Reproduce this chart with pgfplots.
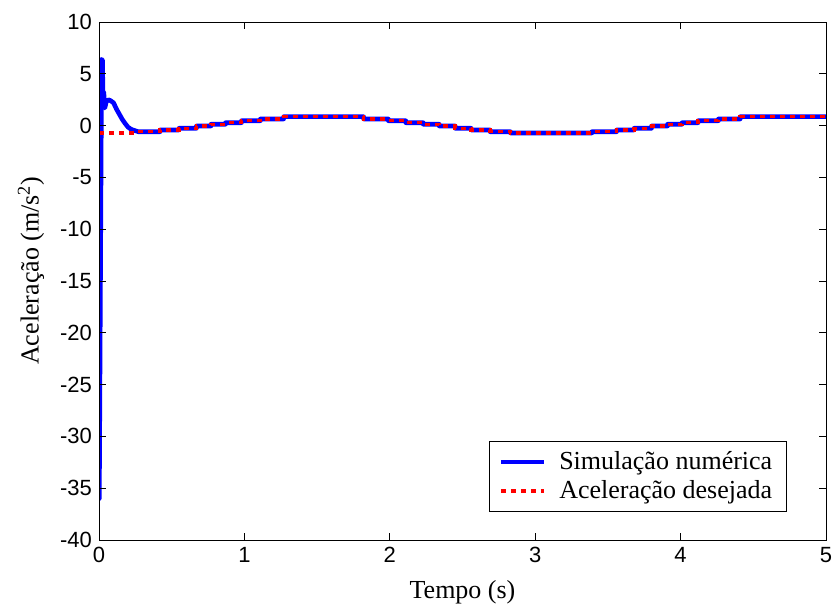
\documentclass[border=0pt]{standalone}
\usepackage{pgfplots}
\pgfplotsset{compat=1.18}
\usepackage{fontspec}
\setmainfont{Liberation Serif}
\newfontfamily\arial{Liberation Sans}
\definecolor{mblue}{RGB}{0,0,255}
\definecolor{mred}{RGB}{255,0,0}
\begin{document}
\begin{tikzpicture}
\begin{axis}[
  name=ax, at={(0,0)}, anchor=south west,
  scale only axis, width=363.5pt, height=259pt,
  xmin=0, xmax=5, ymin=-40, ymax=10,
  xtick={0,1,2,3,4,5}, ytick={-40,-35,-30,-25,-20,-15,-10,-5,0,5,10},
  tick align=inside, major tick length=3.5pt,
  axis on top,
  axis line style={black, line width=0.5pt},
  tick style={black, line width=0.5pt},
  ticklabel style={font=\arial\fontsize{11}{13}\selectfont},
  /pgf/number format/assume math mode=true,
  xlabel={Tempo (s)},
  ylabel={Aceleração (m/s\textsuperscript{2})},
  label style={font=\fontsize{13}{15}\selectfont},
  xlabel style={at={(axis description cs:0.5,-0.112)}, anchor=base},
  ylabel style={at={(axis description cs:-0.0935,0.52)}, anchor=center},
  legend style={at={(rel axis cs:0.946,0.054)}, anchor=south east,
    font=\fontsize{13}{15}\selectfont, draw=black, line width=0.5pt,
    fill=white, inner xsep=5pt, inner ysep=3pt, row sep=0pt},
  legend cell align=left,
  legend image code/.code={\draw[#1, line width=1.6pt] (0pt,0pt) -- (21.5pt,0pt);
    \path (26pt,0pt);},
]
\addplot[mblue, line width=2.3pt, line join=round] coordinates {
(0,-0.3)(0.002,-36)(0.018,6.4)(0.024,6.3)(0.028,1.8)(0.033,3.2)(0.04,1.7)(0.05,2.3)(0.065,2.5)(0.08,2.4)(0.1,2.2)(0.12,1.6)(0.14,1.1)(0.16,0.6)(0.18,0.2)(0.2,-0.15)(0.22,-0.35)(0.25,-0.5)(0.27,-0.59)
(0.42,-0.59)(0.42,-0.42)(0.55,-0.42)(0.55,-0.26)(0.67,-0.26)(0.67,-0.04)(0.77,-0.04)(0.77,0.13)(0.87,0.13)(0.87,0.28)(0.98,0.28)(0.98,0.47)(1.11,0.47)(1.11,0.64)(1.27,0.64)(1.27,0.86)(1.82,0.86)(1.82,0.64)(1.99,0.64)(1.99,0.47)(2.11,0.47)(2.11,0.28)(2.23,0.28)(2.23,0.13)(2.34,0.13)(2.34,-0.04)(2.45,-0.04)(2.45,-0.26)(2.56,-0.26)(2.56,-0.42)(2.69,-0.42)(2.69,-0.59)(2.83,-0.59)(2.83,-0.71)(3.39,-0.71)(3.39,-0.59)(3.56,-0.59)(3.56,-0.42)(3.68,-0.42)(3.68,-0.26)(3.80,-0.26)(3.80,-0.04)(3.91,-0.04)(3.91,0.13)(4.01,0.13)(4.01,0.28)(4.12,0.28)(4.12,0.47)(4.26,0.47)(4.26,0.64)(4.41,0.64)(4.41,0.86)(5,0.86)
};
\addlegendentry{Simulação numérica}
\addplot[mred, line width=1.75pt, dash pattern=on 2.5pt off 2.5pt, const plot mark left] coordinates {
(0,-0.71)(0.26,-0.59)(0.42,-0.42)(0.55,-0.26)(0.67,-0.04)(0.77,0.13)(0.87,0.28)(0.98,0.47)(1.11,0.64)(1.27,0.86)(1.82,0.64)(1.99,0.47)(2.11,0.28)(2.23,0.13)(2.34,-0.04)(2.45,-0.26)(2.56,-0.42)(2.69,-0.59)(2.83,-0.71)(3.39,-0.59)(3.56,-0.42)(3.68,-0.26)(3.80,-0.04)(3.91,0.13)(4.01,0.28)(4.12,0.47)(4.26,0.64)(4.41,0.86)(5,0.86)
};
\addlegendentry{Aceleração desejada}
\end{axis}
\pgfresetboundingbox
\path (-49.5pt,-35pt) rectangle (370pt,270pt);
\end{tikzpicture}
\end{document}
